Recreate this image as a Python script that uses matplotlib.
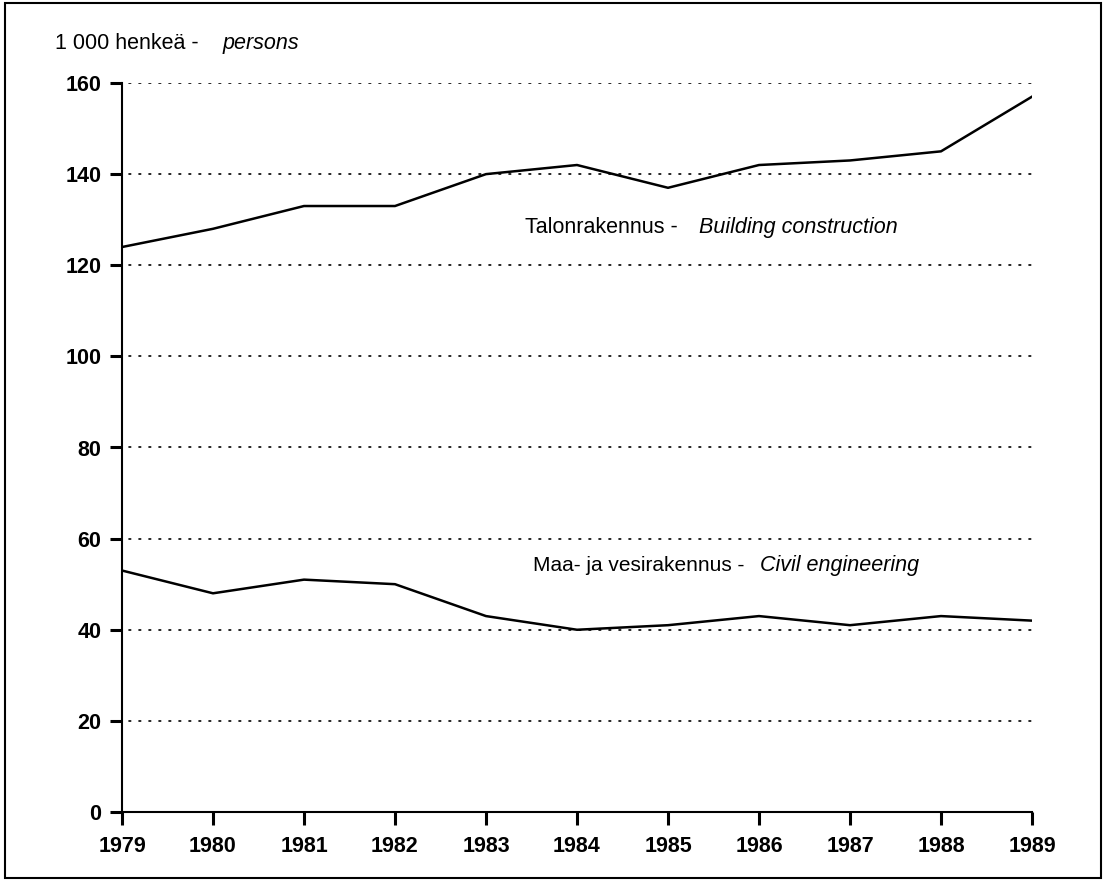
import matplotlib
matplotlib.use("Agg")
import matplotlib.pyplot as plt
from matplotlib.patches import Rectangle

years = [1979, 1980, 1981, 1982, 1983, 1984, 1985, 1986, 1987, 1988, 1989]
building = [124, 128, 133, 133, 140, 142, 137, 142, 143, 145, 157]
civil = [53, 48, 51, 50, 43, 40, 41, 43, 41, 43, 42]
yticks = [0, 20, 40, 60, 80, 100, 120, 140, 160]

plt.rcParams['font.family'] = ['Liberation Sans', 'DejaVu Sans']

fig = plt.figure(figsize=(11.09, 8.8), dpi=100)
ax = fig.add_axes([122/1109, 1 - 812/880, (1032-122)/1109, (812-83)/880])

for y in yticks[1:]:
    ax.plot([years[0] + 0.08, years[-1]], [y, y], color='black', lw=1.2,
            linestyle=(0, (1, 5)), solid_capstyle='round', dash_capstyle='round')

ax.plot(years, building, color='black', lw=1.8)
ax.plot(years, civil, color='black', lw=1.8)

ax.set_xlim(years[0], years[-1])
ax.set_ylim(0, 160)
ax.set_xticks(years)
ax.set_yticks(yticks)
ax.set_xticklabels([str(y) for y in years], fontsize=15.5, fontweight='bold')
ax.set_yticklabels([str(y) for y in yticks], fontsize=15.5, fontweight='bold')
ax.tick_params(axis='y', direction='out', length=9, width=2.2, pad=6)
ax.tick_params(axis='x', direction='out', length=9, width=2.2, pad=8)
for s in ['top', 'right']:
    ax.spines[s].set_visible(False)
for s in ['left', 'bottom']:
    ax.spines[s].set_linewidth(1.5)
ax.patch.set_alpha(0)

ax.text(1978.26, 168.6, '1 000 henkeä -', fontsize=15.5, va='center', ha='left', clip_on=False)
ax.text(1980.10, 168.6, 'persons', fontsize=15.5, style='italic', va='center', ha='left', clip_on=False)
ax.text(1983.43, 128.2, 'Talonrakennus -', fontsize=15.5, va='center', ha='left')
ax.text(1985.34, 128.2, 'Building construction', fontsize=15.5, style='italic', va='center', ha='left')
ax.text(1983.52, 54.2, 'Maa- ja vesirakennus -', fontsize=15, va='center', ha='left')
ax.text(1986.01, 54.2, 'Civil engineering', fontsize=15.5, style='italic', va='center', ha='left')

fig.patches.append(Rectangle((5/1109, 1 - 878/880), (1101-5)/1109, (878-3)/880,
                             transform=fig.transFigure, fill=False, ec='black', lw=1.5))

fig.savefig('out.png', dpi=100)
